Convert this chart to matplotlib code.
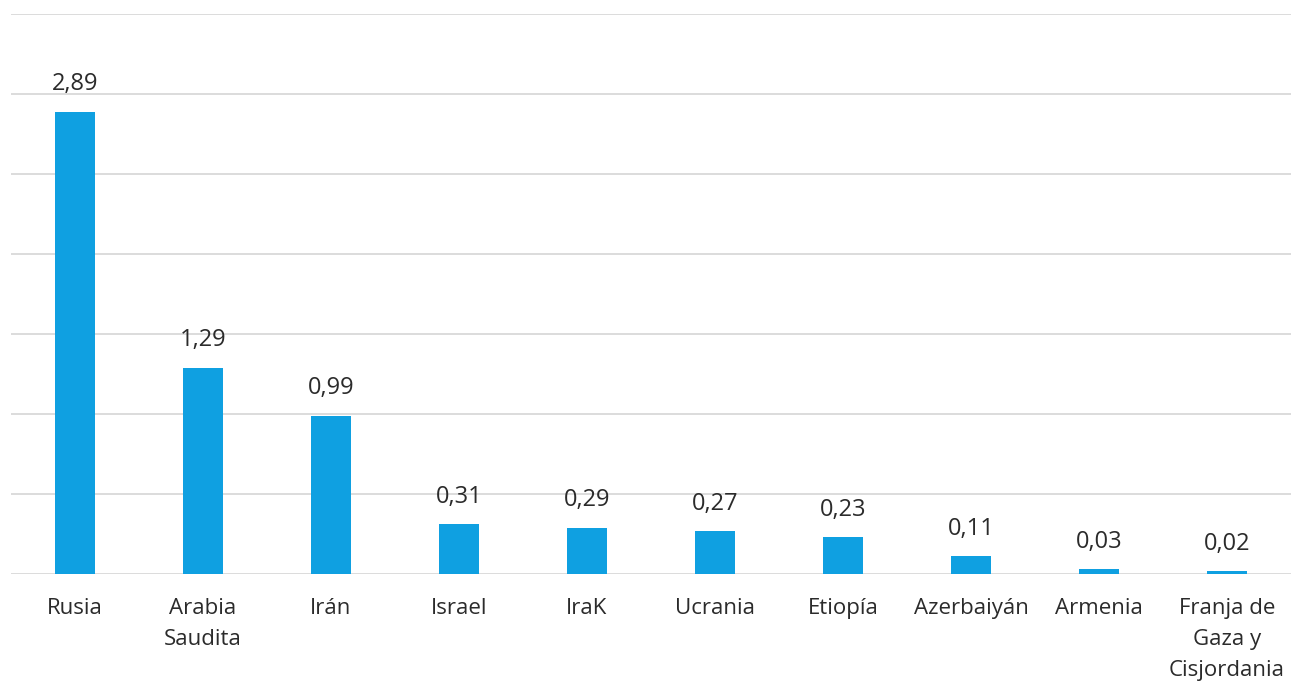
import matplotlib.pyplot as plt
import numpy as np

# datos
paises = ["Rusia", "Arabia\nSaudita", "Irán", "Israel", "IraK", "Ucrania",
          "Etiopía", "Azerbaiyán", "Armenia", "Franja de\nGaza y\nCisjordania"]
valores = [2.89, 1.29, 0.99, 0.31, 0.29, 0.27, 0.23, 0.11, 0.03, 0.02]

plt.rcParams['font.family'] = ['Open Sans', 'DejaVu Sans']

fig = plt.figure(figsize=(13.14, 6.86), dpi=100)
ax = fig.add_axes([11 / 1314, 112 / 686, 1280 / 1314, 560 / 686])

x = np.arange(len(paises))
ax.bar(x, valores, width=0.31, color='#0fa0e1', zorder=3)

for xi, v in zip(x, valores):
    ax.annotate(f"{v:.2f}".replace('.', ','), (xi, v), xytext=(0, 11),
                textcoords='offset points', ha='center', va='bottom',
                fontsize=17, color='#2b2b2b')

ax.set_xlim(-0.5, len(paises) - 0.5)
ax.set_ylim(0, 3.5)
ax.set_yticks(np.arange(0, 3.51, 0.5))
ax.yaxis.grid(True, color='#dcdcdc', linewidth=1.4, zorder=0)
ax.tick_params(axis='y', left=False, labelleft=False)
ax.tick_params(axis='x', bottom=False, pad=14)
ax.set_xticks(x)
ax.set_xticklabels(paises, fontsize=16, color='#2b2b2b', linespacing=1.6, va='top')

for s in ax.spines.values():
    s.set_visible(False)

fig.savefig("out.png", dpi=100)
